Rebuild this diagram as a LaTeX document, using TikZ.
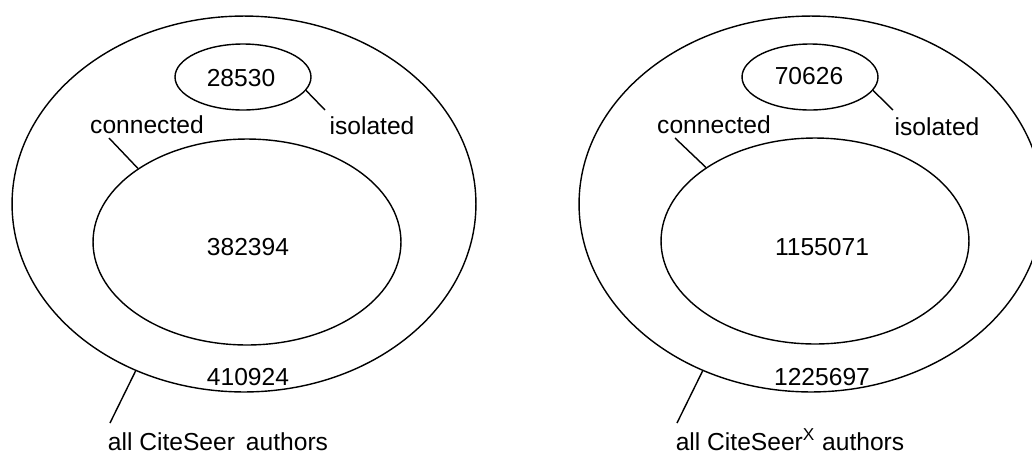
\documentclass[tikz,border=0pt]{standalone}
\usepackage{fontspec}
\setmainfont{Liberation Sans}
\usetikzlibrary{shapes.geometric}

\begin{document}
\begin{tikzpicture}[x=0.02cm, y=-0.02cm, line width=0.8pt,
  font=\fontsize{14}{16}\selectfont,
  allset/.style={ellipse, draw, inner sep=0pt, minimum width=9.28cm, minimum height=7.52cm},
  conset/.style={ellipse, draw, inner sep=0pt, minimum width=6.16cm, minimum height=4.12cm},
  isoset/.style={ellipse, draw, inner sep=0pt, minimum width=2.72cm, minimum height=1.32cm},
  lbl/.style={anchor=base, inner sep=0pt}]
  \useasboundingbox (0,0) rectangle (1032,454);

  % CiteSeer
  \node[allset] (allL) at (244,204) {};
  \node[conset] (conL) at (247,242) {};
  \node[isoset] (isoL) at (243,77) {};
  \node[lbl] (nIsoL) at (241,86) {28530};
  \node[lbl] (nConL) at (248,255) {382394};
  \node[lbl] (nAllL) at (248,385) {410924};
  \node[lbl] (tConL) at (147,133) {connected};
  \node[lbl] (tIsoL) at (372,134) {isolated};
  \node[lbl] (tAllL) at (218,450) {all CiteSeer\,\ authors};
  \coordinate (cConL) at (109,138);
  \coordinate (cIsoL) at (325,110);
  \coordinate (cAllL) at (110,423);
  \draw (conL.146) -- (cConL);
  \draw (isoL.-12) -- (cIsoL);
  \draw (allL.237) -- (cAllL);

  % CiteSeerX
  \node[allset] (allR) at (811,204) {};
  \node[conset] (conR) at (815,241) {};
  \node[isoset] (isoR) at (810,77) {};
  \node[lbl] (nIsoR) at (809,84) {70626};
  \node[lbl] (nConR) at (822,255) {1155071};
  \node[lbl] (nAllR) at (822,385) {1225697};
  \node[lbl] (tConR) at (714,133) {connected};
  \node[lbl] (tIsoR) at (937,135) {isolated};
  \node[lbl] (tAllR) at (790,450) {all CiteSeer\textsuperscript{X} authors};
  \coordinate (cConR) at (675,138);
  \coordinate (cIsoR) at (893,110);
  \coordinate (cAllR) at (677,423);
  \draw (conR.146) -- (cConR);
  \draw (isoR.-12) -- (cIsoR);
  \draw (allR.237) -- (cAllR);
\end{tikzpicture}
\end{document}
